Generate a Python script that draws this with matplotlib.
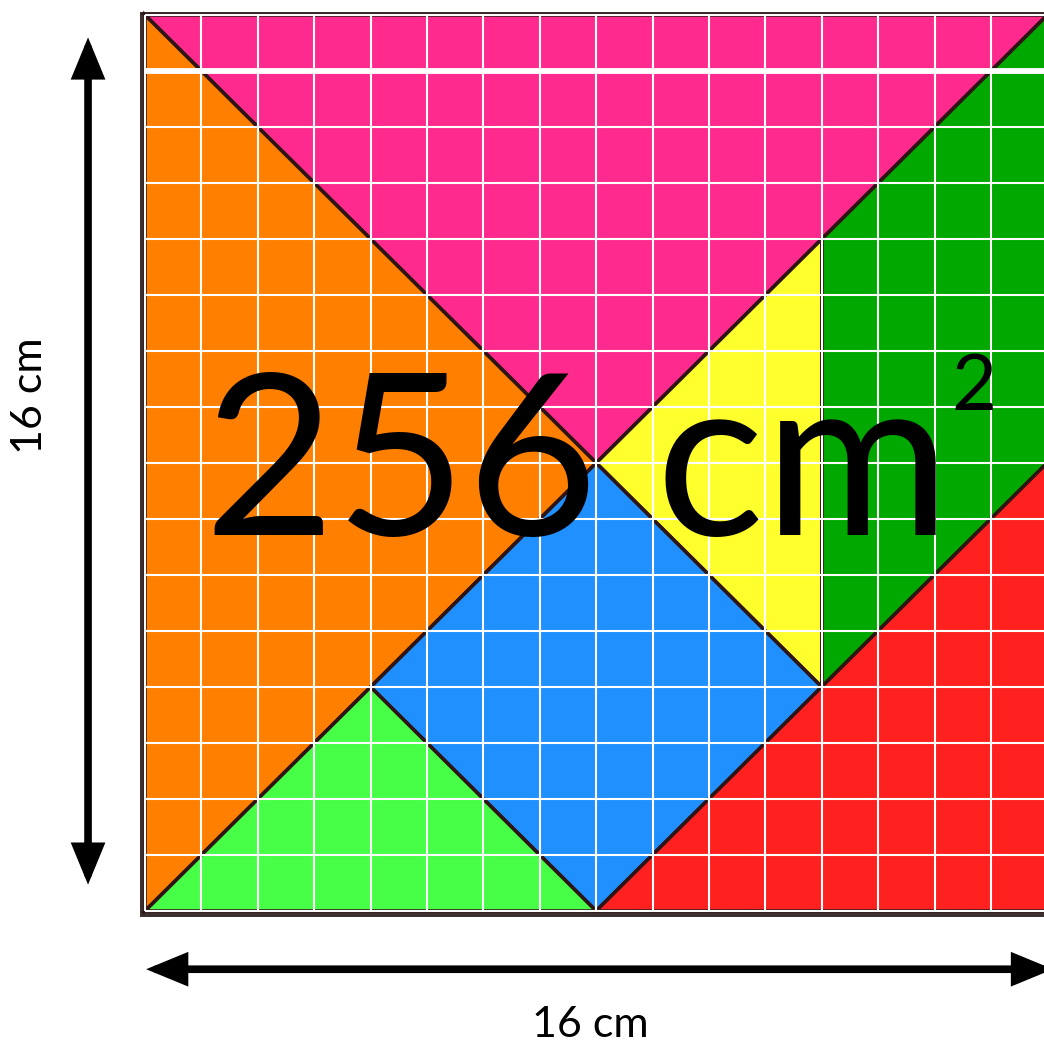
import matplotlib
matplotlib.use("Agg")
import matplotlib.pyplot as plt
from matplotlib.patches import Polygon, Rectangle, FancyArrowPatch

# ---- data: tangram pieces on a 16 x 16 cm grid (cm units) ----
side_cm = 16
piece_names = ["pink", "orange", "dark_green", "yellow", "blue", "light_green", "red"]
piece_colors = ["#FF2A8E", "#FF8000", "#00A800", "#FFFF2E", "#2090FF", "#48FF48", "#FF2020"]
piece_vertices = [
    [(0, 16), (16, 16), (8, 8)],
    [(0, 16), (0, 0), (8, 8)],
    [(16, 16), (12, 12), (12, 4), (16, 8)],
    [(8, 8), (12, 12), (12, 4)],
    [(8, 8), (12, 4), (8, 0), (4, 4)],
    [(0, 0), (4, 4), (8, 0)],
    [(8, 0), (16, 0), (16, 8)],
]
area_text = "256 cm"
side_label = "16 cm"

FONT = "Lato"

fig = plt.figure(figsize=(10.44, 10.46), dpi=100)
ax = fig.add_axes([0, 0, 1, 1])
ax.set_xlim(-2.571, 15.94)
ax.set_ylim(-2.411, 16.268)
ax.axis("off")

# ---- dark frame / shadow behind the square ----
ax.add_patch(Rectangle((-0.08, -0.1), side_cm + 0.16, side_cm + 0.16,
                       facecolor="#3c3030", edgecolor="none", zorder=0))

# ---- pieces ----
for name, col, verts in zip(piece_names, piece_colors, piece_vertices):
    ax.add_patch(Polygon(verts, closed=True, facecolor=col, edgecolor="#2e1414",
                         linewidth=2.6, joinstyle="miter", zorder=1))

# ---- white grid on top ----
for k in range(side_cm + 1):
    ax.plot([k, k], [0, side_cm], color="white", lw=1.5, zorder=2, solid_capstyle="butt")
    lw = 4.2 if k == 15 else 1.5
    ax.plot([0, side_cm], [k, k], color="white", lw=lw, zorder=2, solid_capstyle="butt")

# ---- area label ----
ax.text(1.05, 6.71, area_text, fontsize=163, family=FONT, color="black",
        ha="left", va="baseline", zorder=5)
ax.text(14.3, 8.95, "2", fontsize=56, family=FONT, color="black",
        ha="left", va="baseline", zorder=5)

# ---- dimension arrows ----
arrow_kw = dict(arrowstyle="<|-|>,head_length=1.7,head_width=0.7",
                mutation_scale=12, lw=5.5, color="black", shrinkA=0, shrinkB=0,
                joinstyle="miter", zorder=4)
ax.add_patch(FancyArrowPatch((-1.01, 0.47), (-1.01, 15.6), **arrow_kw))
ax.add_patch(FancyArrowPatch((0.02, -1.04), (16.1, -1.04), **arrow_kw))

ax.text(-2.04, 9.21, side_label, fontsize=31, family=FONT, rotation=90,
        ha="center", va="center")
ax.text(7.89, -2.04, side_label, fontsize=31, family=FONT,
        ha="center", va="center")

fig.savefig("out.png", dpi=100)
